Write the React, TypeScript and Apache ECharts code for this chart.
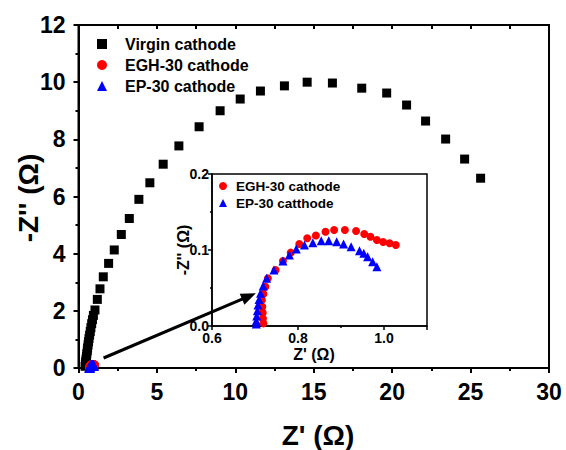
import React, { useEffect, useRef } from "react";
import * as echarts from "echarts";

// Virgin cathode: [Z' (Ω), -Z'' (Ω)]
const virginData: number[][] = [
  [0.42, 0.06], [0.44, 0.14], [0.46, 0.22], [0.48, 0.31], [0.51, 0.4],
  [0.53, 0.5], [0.56, 0.6], [0.58, 0.7], [0.61, 0.81], [0.64, 0.92],
  [0.67, 1.03], [0.71, 1.15], [0.75, 1.28], [0.79, 1.41], [0.84, 1.55],
  [0.89, 1.69], [0.95, 1.84], [1.05, 2.03], [1.2, 2.4], [1.37, 2.77],
  [1.58, 3.19], [1.92, 3.66], [2.28, 4.13], [2.73, 4.67], [3.24, 5.23],
  [3.85, 5.9], [4.55, 6.48], [5.4, 7.13], [6.4, 7.77], [7.69, 8.44],
  [9.03, 9.0], [10.31, 9.41], [11.6, 9.69], [13.13, 9.87], [14.58, 10.0],
  [16.19, 9.97], [18.06, 9.79], [19.65, 9.62], [20.92, 9.2], [22.13, 8.64],
  [23.41, 8.01], [24.62, 7.31], [25.64, 6.64],
];

// EGH-30 cathode
const eghData: number[][] = [
  [0.7195, 0.0035], [0.7185, 0.01], [0.718, 0.0175], [0.717, 0.0254],
  [0.716, 0.034], [0.7195, 0.042], [0.724, 0.0517], [0.73, 0.0627],
  [0.748, 0.0737], [0.765, 0.0855], [0.783, 0.0965], [0.803, 0.108],
  [0.8215, 0.1154], [0.8415, 0.119], [0.864, 0.124], [0.884, 0.1263],
  [0.909, 0.1263], [0.935, 0.125], [0.954, 0.121], [0.9685, 0.1175],
  [0.9835, 0.1132], [0.998, 0.1105], [1.013, 0.1088], [1.0275, 0.1066],
];

// EP-30 cathode
const epData: number[][] = [
  [0.703, 0.0026], [0.703, 0.0066], [0.704, 0.013], [0.7055, 0.02],
  [0.707, 0.0276], [0.7095, 0.035], [0.713, 0.043], [0.719, 0.0526],
  [0.727, 0.0627], [0.744, 0.0737], [0.765, 0.0855], [0.78, 0.0934],
  [0.796, 0.1013], [0.815, 0.1066], [0.8345, 0.1096], [0.854, 0.1123],
  [0.8715, 0.1123], [0.89, 0.111], [0.906, 0.108], [0.9235, 0.1044],
  [0.943, 0.099], [0.953, 0.0956], [0.962, 0.0912], [0.9735, 0.0846],
  [0.9835, 0.078],
];

const mainLegend = ["Virgin cathode", "EGH-30 cathode", "EP-30 cathode"];
const insetLegend = ["EGH-30 cathode", "EP-30 catthode"];

const FONT = "'Liberation Sans', Arial, Helvetica, sans-serif";

export default function App() {
  const ref = useRef<HTMLDivElement>(null);

  useEffect(() => {
    if (!ref.current) return;
    const chart = echarts.init(ref.current, undefined, { renderer: "svg" });

    const mainAxisLabel = { color: "#000", fontFamily: FONT, fontWeight: "bold" as const, fontSize: 23 };
    const insetAxisLabel = { color: "#000", fontFamily: FONT, fontWeight: "bold" as const, fontSize: 14 };

    chart.setOption({
      animation: false,
      backgroundColor: "#fff",
      grid: [
        { left: 78.5, right: 17, top: 25, bottom: 82, show: true, borderColor: "#000", borderWidth: 2, backgroundColor: "transparent" },
        { left: 212, right: 139, top: 174, bottom: 124, show: true, borderColor: "#000", borderWidth: 1.5, backgroundColor: "#fff" },
      ],
      xAxis: [
        {
          gridIndex: 0, type: "value", min: 0, max: 30, interval: 5, position: "bottom",
          axisLine: { show: true, lineStyle: { color: "#000", width: 2 } },
          axisTick: { show: true, length: 5, inside: false, lineStyle: { color: "#000", width: 2 } },
          minorTick: { show: true, splitNumber: 2, length: 3, lineStyle: { color: "#000", width: 2 } },
          splitLine: { show: false },
          axisLabel: { ...mainAxisLabel, margin: 12 },
        },
        {
          gridIndex: 0, type: "value", min: 0, max: 30, interval: 5, position: "top",
          axisLine: { show: false },
          axisTick: { show: true, length: 4, inside: true, lineStyle: { color: "#000", width: 2 } },
          minorTick: { show: true, splitNumber: 2, length: 4, lineStyle: { color: "#000", width: 2 } },
          splitLine: { show: false },
          axisLabel: { show: false },
        },
        {
          gridIndex: 1, type: "value", min: 0.6, max: 1.1, interval: 0.2, position: "bottom",
          axisLine: { show: true, lineStyle: { color: "#000", width: 1.5 } },
          axisTick: { show: true, length: 4, lineStyle: { color: "#000", width: 1.5 } },
          minorTick: { show: true, splitNumber: 2, length: 2, lineStyle: { color: "#000", width: 1.5 } },
          splitLine: { show: false },
          axisLabel: { ...insetAxisLabel, margin: 5, showMaxLabel: false, formatter: (v: number) => v.toFixed(1) },
        },
      ],
      yAxis: [
        {
          gridIndex: 0, type: "value", min: 0, max: 12, interval: 2, position: "left",
          axisLine: { show: true, lineStyle: { color: "#000", width: 2 } },
          axisTick: { show: true, length: 5, lineStyle: { color: "#000", width: 2 } },
          minorTick: { show: true, splitNumber: 2, length: 3, lineStyle: { color: "#000", width: 2 } },
          splitLine: { show: false },
          axisLabel: { ...mainAxisLabel, margin: 13 },
        },
        {
          gridIndex: 1, type: "value", min: 0, max: 0.2, interval: 0.1, position: "left",
          axisLine: { show: true, lineStyle: { color: "#000", width: 1.5 } },
          axisTick: { show: true, length: 4, lineStyle: { color: "#000", width: 1.5 } },
          minorTick: { show: true, splitNumber: 2, length: 2, lineStyle: { color: "#000", width: 1.5 } },
          splitLine: { show: false },
          axisLabel: { ...insetAxisLabel, margin: 3, formatter: (v: number) => v.toFixed(1) },
        },
      ],
      legend: [
        {
          data: mainLegend, orient: "vertical", left: 97, top: 36, padding: 0,
          itemWidth: 10, itemHeight: 10, itemGap: 5,
          textStyle: { fontFamily: FONT, fontWeight: "bold", fontSize: 16, color: "#000", lineHeight: 16, padding: [0, 0, 0, 13] },
          selectedMode: false,
        },
        {
          data: insetLegend, orient: "vertical", left: 219, top: 179, padding: 0,
          itemWidth: 8, itemHeight: 8, itemGap: 3,
          textStyle: { fontFamily: FONT, fontWeight: "bold", fontSize: 13.5, color: "#000", lineHeight: 14, padding: [0, 0, 0, 4] },
          selectedMode: false,
        },
      ],
      series: [
        { name: "Virgin cathode", type: "scatter", xAxisIndex: 0, yAxisIndex: 0, symbol: "rect", symbolSize: 9, itemStyle: { color: "#000", opacity: 1 }, data: virginData },
        { name: "EGH-30 cathode", type: "scatter", xAxisIndex: 0, yAxisIndex: 0, symbol: "circle", symbolSize: 9, itemStyle: { color: "#ff0000", opacity: 1 }, data: eghData },
        { name: "EP-30 cathode", type: "scatter", xAxisIndex: 0, yAxisIndex: 0, symbol: "triangle", symbolSize: 10, itemStyle: { color: "#0000ff", opacity: 1 }, data: epData },
        { name: "EGH-30 cathode", type: "scatter", xAxisIndex: 2, yAxisIndex: 1, symbol: "circle", symbolSize: 8, itemStyle: { color: "#ff0000", opacity: 1 }, data: eghData },
        { name: "EP-30 catthode", type: "scatter", xAxisIndex: 2, yAxisIndex: 1, symbol: "triangle", symbolSize: 9, itemStyle: { color: "#0000ff", opacity: 1 }, data: epData },
      ],
    });

    const s = chart.convertToPixel({ gridIndex: 0 }, [1.6, 0.35]) as number[];
    const e = chart.convertToPixel({ gridIndex: 1 }, [0.702, 0.043]) as number[];
    const dx = e[0] - s[0];
    const dy = e[1] - s[1];
    const len = Math.sqrt(dx * dx + dy * dy);
    const ux = dx / len;
    const uy = dy / len;
    const nx = -uy;
    const ny = ux;
    const headL = 15;
    const headW = 6;
    const bx = e[0] - ux * headL;
    const by = e[1] - uy * headL;

    const titleStyle = (size: number) => ({
      fill: "#000", fontFamily: FONT, fontWeight: "bold", fontSize: size,
      align: "center", verticalAlign: "middle",
    });

    chart.setOption({
      graphic: [
        { type: "line", id: "arrowLine", z: 100, shape: { x1: s[0], y1: s[1], x2: bx + ux * 2, y2: by + uy * 2 }, style: { stroke: "#000", lineWidth: 3 } },
        { type: "polygon", id: "arrowHead", z: 100, shape: { points: [[e[0], e[1]], [bx + nx * headW, by + ny * headW], [bx - nx * headW, by - ny * headW]] }, style: { fill: "#000" } },
        { type: "text", id: "xTitle", x: 318, y: 435, style: { text: "Z' (Ω)", ...titleStyle(28) } },
        { type: "text", id: "yTitle", x: 28, y: 198, rotation: Math.PI / 2, style: { text: "-Z'' (Ω)", ...titleStyle(28) } },
        { type: "text", id: "ixTitle", x: 314, y: 354, style: { text: "Z' (Ω)", ...titleStyle(16) } },
        { type: "text", id: "iyTitle", x: 183, y: 250, rotation: Math.PI / 2, style: { text: "-Z'' (Ω)", ...titleStyle(16) } },
      ],
    });

    return () => chart.dispose();
  }, []);

  return (
    <div
      ref={ref}
      style={{ position: "fixed", left: 0, top: 0, width: 566, height: 450, background: "#fff" }}
    />
  );
}
